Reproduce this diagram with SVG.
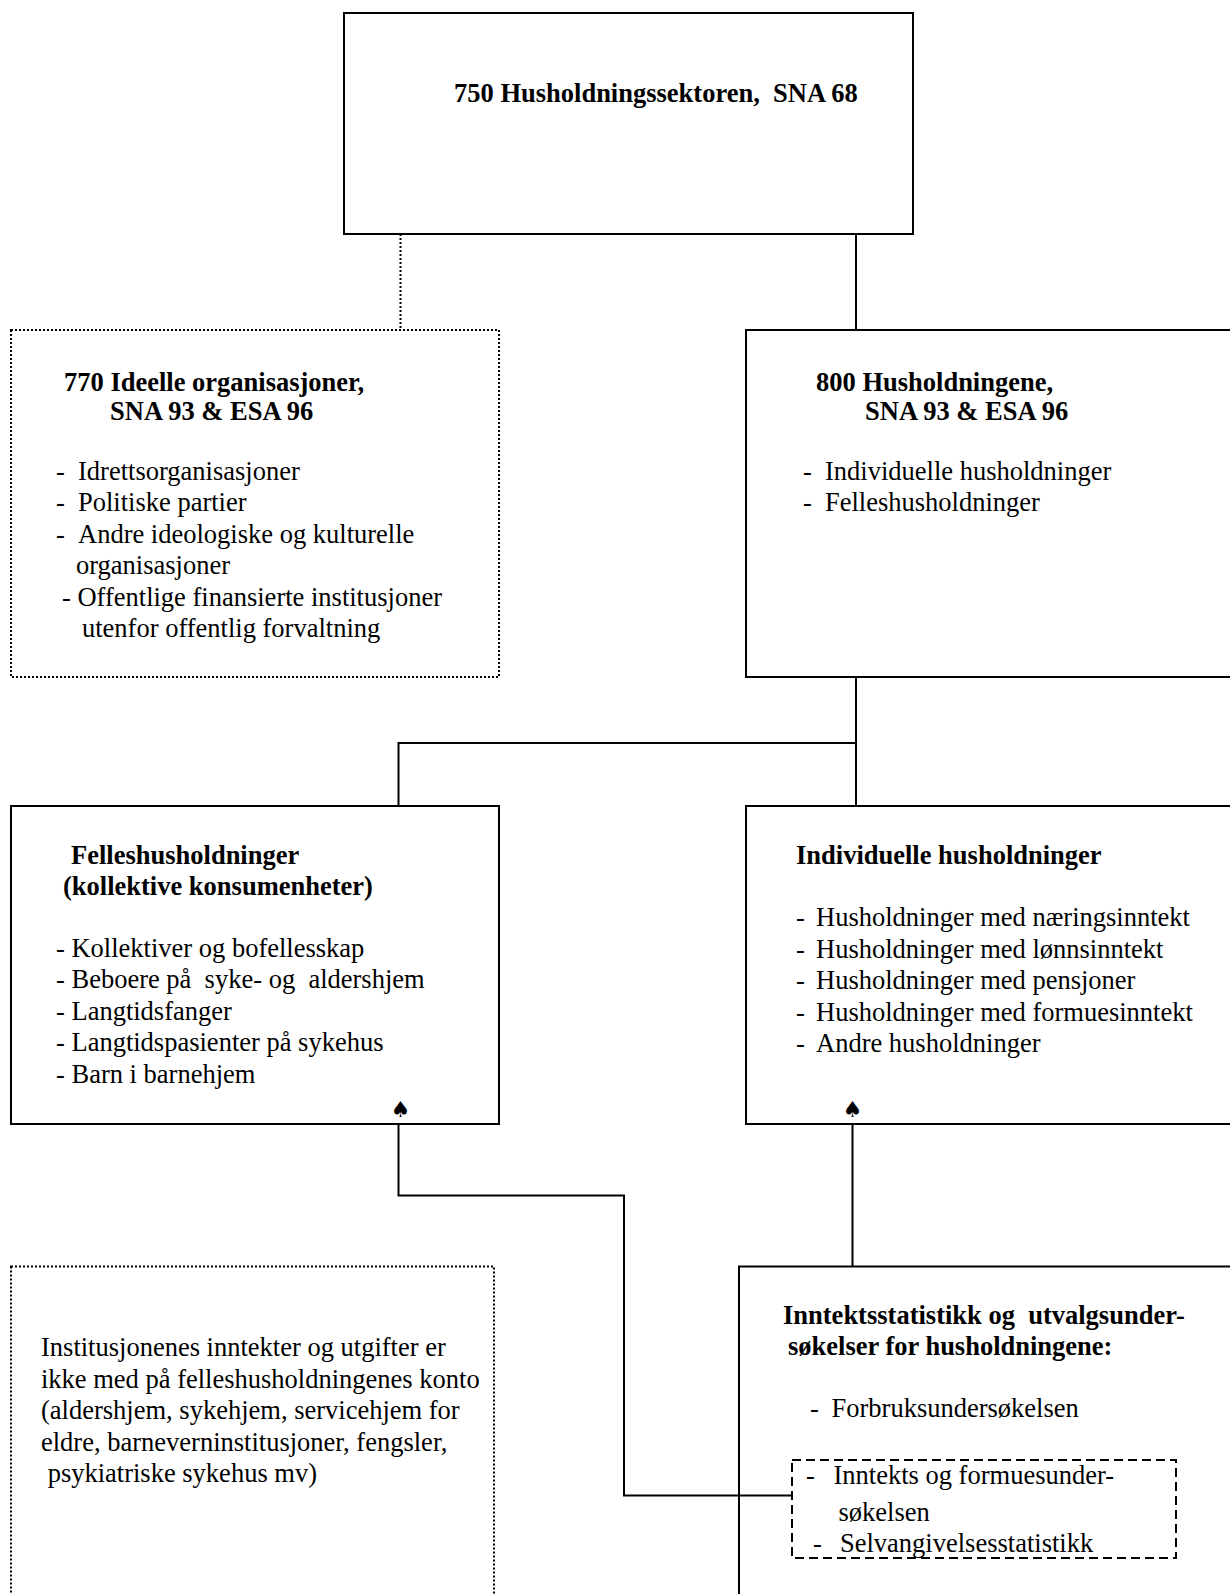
<svg xmlns="http://www.w3.org/2000/svg" width="1230" height="1594" viewBox="0 0 1230 1594">
<style>
text{font-family:"Liberation Serif","Times New Roman",serif;font-size:26.5px;fill:#000;white-space:pre}
.b{font-weight:bold}
.box{fill:#fff;stroke:#000;stroke-width:2}
.dot{fill:#fff;stroke:#000;stroke-width:2;stroke-dasharray:2 2}
.dash{fill:none;stroke:#000;stroke-width:2;stroke-dasharray:9 5}
.ln{fill:none;stroke:#000;stroke-width:2}
.lnd{fill:none;stroke:#000;stroke-width:2;stroke-dasharray:2 2}
.sp{font-family:"DejaVu Sans",sans-serif;font-size:22px;text-anchor:middle}
</style>
<rect width="1230" height="1594" fill="#fff"/>
<g id="n750">
<rect class="box" x="344" y="13" width="569" height="221"/>
<text class="b" x="454" y="102" xml:space="preserve">750 Husholdningssektoren,  SNA 68</text>
</g>
<g id="n770">
<rect class="dot" x="11" y="330" width="488" height="347"/>
<text class="b" x="64" y="391">770 Ideelle organisasjoner,</text>
<text class="b" x="110" y="420">SNA 93 &amp; ESA 96</text>
<text x="56" y="480">-</text><text x="78" y="480">Idrettsorganisasjoner</text>
<text x="56" y="511">-</text><text x="78" y="511">Politiske partier</text>
<text x="56" y="543">-</text><text x="78" y="543">Andre ideologiske og kulturelle</text>
<text x="76" y="574">organisasjoner</text>
<text x="62" y="606">- Offentlige finansierte institusjoner</text>
<text x="82" y="637">utenfor offentlig forvaltning</text>
</g>
<g id="n800">
<rect class="box" x="746" y="330" width="494" height="347"/>
<text class="b" x="816" y="391">800 Husholdningene,</text>
<text class="b" x="865" y="420">SNA 93 &amp; ESA 96</text>
<text x="803" y="480">-</text><text x="825" y="480">Individuelle husholdninger</text>
<text x="803" y="511">-</text><text x="825" y="511">Felleshusholdninger</text>
</g>
<g id="nfelles">
<rect class="box" x="11" y="806" width="488" height="318"/>
<text class="b" x="71" y="864">Felleshusholdninger</text>
<text class="b" x="63" y="894.5">(kollektive konsumenheter)</text>
<text x="56" y="956.5">- Kollektiver og bofellesskap</text>
<text x="56" y="988" xml:space="preserve">- Beboere på  syke- og  aldershjem</text>
<text x="56" y="1019.5">- Langtidsfanger</text>
<text x="56" y="1051">- Langtidspasienter på sykehus</text>
<text x="56" y="1082.5">- Barn i barnehjem</text>
<text class="sp" x="400.5" y="1117">♠</text>
</g>
<g id="nindividuelle">
<rect class="box" x="746" y="806" width="494" height="318"/>
<text class="b" x="796" y="864">Individuelle husholdninger</text>
<text x="796" y="926">-</text><text x="816" y="926">Husholdninger med næringsinntekt</text>
<text x="796" y="957.5">-</text><text x="816" y="957.5">Husholdninger med lønnsinntekt</text>
<text x="796" y="989">-</text><text x="816" y="989">Husholdninger med pensjoner</text>
<text x="796" y="1020.5">-</text><text x="816" y="1020.5">Husholdninger med formuesinntekt</text>
<text x="796" y="1052">-</text><text x="816" y="1052">Andre husholdninger</text>
<text class="sp" x="852.5" y="1117">♠</text>
</g>
<g id="nnote">
<rect class="dot" x="11" y="1266.5" width="483" height="340"/>
<text x="41" y="1356">Institusjonenes inntekter og utgifter er</text>
<text x="41" y="1387.5">ikke med på felleshusholdningenes konto</text>
<text x="41" y="1419">(aldershjem, sykehjem, servicehjem for</text>
<text x="41" y="1450.5">eldre, barneverninstitusjoner, fengsler,</text>
<text x="41" y="1482" xml:space="preserve"> psykiatriske sykehus mv)</text>
</g>
<g id="ninntekt">
<rect class="box" x="739" y="1266.5" width="501" height="340"/>
<text class="b" x="783" y="1323.5" xml:space="preserve">Inntektsstatistikk og  utvalgsunder-</text>
<text class="b" x="788" y="1355">søkelser for husholdningene:</text>
<text x="810" y="1417">-</text><text x="831.5" y="1417">Forbruksundersøkelsen</text>
<rect class="dash" x="792" y="1460" width="384" height="98"/>
<text x="806" y="1484">-</text><text x="833.5" y="1484">Inntekts og formuesunder-</text>
<text x="838.5" y="1520.5">søkelsen</text>
<text x="813" y="1552">-</text><text x="840" y="1552">Selvangivelsesstatistikk</text>
</g>
<g id="connectors">
<line class="lnd" x1="400.5" y1="234" x2="400.5" y2="330"/>
<line class="ln" x1="856" y1="234" x2="856" y2="330"/>
<polyline class="ln" points="856,677 856,806"/>
<polyline class="ln" points="856,743 398.5,743 398.5,806"/>
<polyline class="ln" points="398.5,1124 398.5,1195.5 624,1195.5 624,1495.5 792,1495.5"/>
<line class="ln" x1="852.5" y1="1124" x2="852.5" y2="1266.5"/>
</g>
</svg>
